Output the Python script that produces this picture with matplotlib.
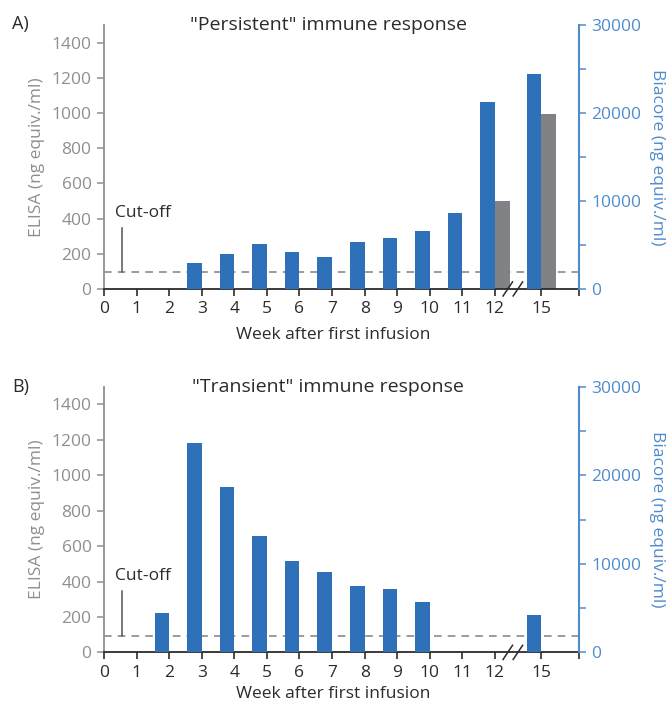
import numpy as np
import matplotlib.pyplot as plt

plt.rcParams['font.family'] = ['Open Sans', 'DejaVu Sans']

# x axis: weeks 0-12, then a break, then week 15
weeks = [0, 1, 2, 3, 4, 5, 6, 7, 8, 9, 10, 11, 12, 15]
week_labels = [str(w) for w in weeks]

# A) persistent response
pers_bia_weeks = [3, 4, 5, 6, 7, 8, 9, 10, 11, 12, 15]
pers_biacore = [2950, 4000, 5100, 4200, 3650, 5350, 5800, 6600, 8650, 21250, 24450]
pers_elisa_weeks = [12, 15]
pers_elisa = [500, 995]

# B) transient response
trans_bia_weeks = [2, 3, 4, 5, 6, 7, 8, 9, 10, 15]
trans_biacore = [4400, 23600, 18650, 13100, 10350, 9100, 7500, 7100, 5700, 4250]
trans_elisa_weeks = []
trans_elisa = []

cutoff = 95  # ELISA cut-off

BLUE = '#2f71b8'
GREY_BAR = '#808285'
AXIS_BLUE = '#4f8ccc'
AXIS_GREY = '#8f8f8f'
DARK = '#2b2b2b'
GAP = 1.57      # week 15 is drawn closer after the axis break
XMAX = 14.58
BW = 0.45


def xpos(w):
    return w if w <= 12 else w - GAP


def panel(rect, letter, letter_y, title, xlab_y, bia_w, bia_v, el_w, el_v):
    ax = fig.add_axes(rect)
    ax2 = ax.twinx()

    ax.axhline(cutoff, color='#808080', lw=1.1, ls=(0, (5, 4)), zorder=1)
    if el_w:
        ax.bar([xpos(w) for w in el_w], el_v, width=BW, align='edge',
               color=GREY_BAR, zorder=2)
    ax2.bar([xpos(w) for w in bia_w], bia_v, width=-BW, align='edge',
            color=BLUE, zorder=2)

    ax.set_xlim(0, XMAX)
    ax.set_ylim(0, 1500)
    ax2.set_ylim(0, 30000)

    ax.set_xticks([xpos(w) for w in weeks] + [XMAX])
    ax.set_xticklabels(week_labels + [''])
    ax.set_yticks(range(0, 1401, 200))
    ax2.set_yticks([0, 10000, 20000, 30000])
    ax2.set_yticks([5000, 15000, 25000], minor=True)

    for s in ['top', 'right']:
        ax.spines[s].set_visible(False)
    for s in ['top', 'left', 'bottom']:
        ax2.spines[s].set_visible(False)
    ax.spines['left'].set_color(AXIS_GREY)
    ax.spines['left'].set_linewidth(1.3)
    ax.spines['bottom'].set_color(DARK)
    ax.spines['bottom'].set_linewidth(1.3)
    ax2.spines['right'].set_color(AXIS_BLUE)
    ax2.spines['right'].set_linewidth(1.5)

    ax.tick_params(axis='x', length=5, width=1.2, color=DARK, labelsize=12.5,
                   labelcolor=DARK, pad=4)
    ax.tick_params(axis='y', length=5, width=1.1, color=AXIS_GREY, labelsize=12.5,
                   labelcolor=AXIS_GREY, pad=4)
    ax2.tick_params(axis='y', which='both', length=5, width=1.1, color=AXIS_BLUE,
                    labelsize=12.5, labelcolor=AXIS_BLUE, pad=4)

    ax.set_ylabel('ELISA (ng equiv./ml)', color=AXIS_GREY, fontsize=12.5, labelpad=5)
    ax2.set_ylabel('Biacore (ng equiv./ml)', color=AXIS_BLUE, fontsize=12.5,
                   rotation=270, labelpad=17)

    ax.text(0.482, xlab_y, 'Week after first infusion', transform=ax.transAxes,
            ha='center', va='center', fontsize=12.5, color=DARK)
    ax.text(0.472, 1.0, title, transform=ax.transAxes, ha='center', va='center',
            fontsize=14, color=DARK)
    fig.text(12 / 667, letter_y, letter, ha='left', va='center', fontsize=13, color=DARK)

    # cut-off label
    ax.text(0.34, 430, 'Cut-off', ha='left', va='center', fontsize=12.5, color=DARK)
    ax.plot([0.55, 0.55], [cutoff, 345], color='#555555', lw=1.1)

    # axis break marks
    for x0 in [12.25, 12.56]:
        ax.plot([x0, x0 + 0.29], [-40, 40], color=DARK, lw=1.1, clip_on=False,
                zorder=5)
    return ax


fig = plt.figure(figsize=(6.67, 7.03), dpi=100)
panel([0.156, 0.589, 0.712, 0.3755], 'A)', 1 - 24 / 703,
      '"Persistent" immune response', -0.175, pers_bia_weeks, pers_biacore,
      pers_elisa_weeks, pers_elisa)
panel([0.156, 0.072, 0.712, 0.378], 'B)', 1 - 387 / 703,
      '"Transient" immune response', -0.155, trans_bia_weeks, trans_biacore,
      trans_elisa_weeks, trans_elisa)

fig.savefig('out.png', dpi=100)
